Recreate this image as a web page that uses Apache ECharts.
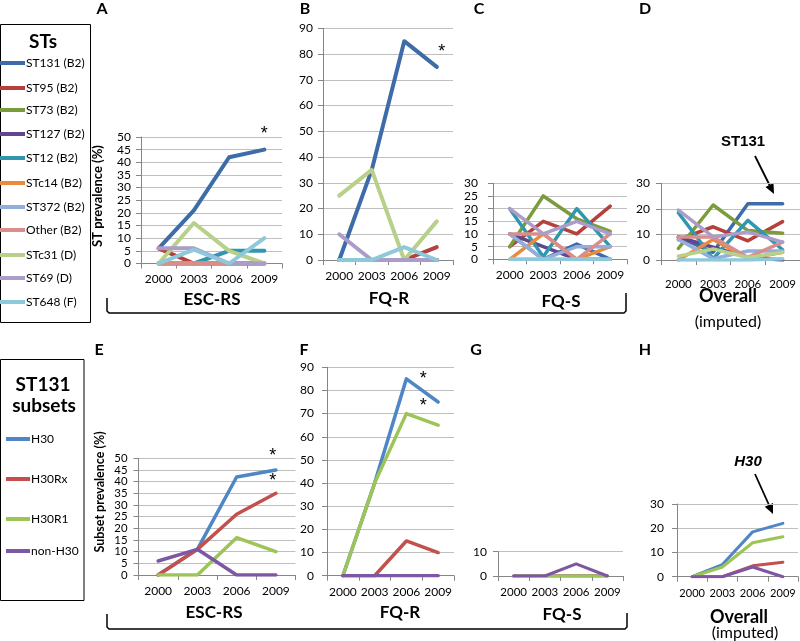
<!DOCTYPE html>
<html><head><meta charset="utf-8">
<script src="https://cdn.jsdelivr.net/npm/echarts@6/dist/echarts.min.js"></script>
<style>html,body{margin:0;padding:0;background:#fff}#c{width:800px;height:641px}</style>
</head><body><div id="c"></div>
<script>
const years = ['2000', '2003', '2006', '2009'];
const stNames = ['ST131 (B2)', 'ST95 (B2)', 'ST73 (B2)', 'ST127 (B2)', 'ST12 (B2)', 'STc14 (B2)', 'ST372 (B2)', 'Other (B2)', 'STc31 (D)', 'ST69 (D)', 'ST648 (F)'];
const stColors = ['#3D6CA8', '#B5403C', '#7B9C3C', '#60468F', '#3296AE', '#EB8A3C', '#93AEDB', '#D98E8C', '#B8D08A', '#AC9CC8', '#8DC9DB'];
const subsetNames = ['H30', 'H30Rx', 'H30R1', 'non-H30'];
const subsetColors = ['#4F86C6', '#C4504D', '#9CC456', '#7D57A3'];

// ST prevalence (%) per group, one row per ST in stNames order
const stEscRS = [[6,21,42,45],[6,0,0,0],[0,0,0,0],[0,0,0,0],[0,0,5,5],[0,0,0,0],[0,0,0,0],[0,0,0,0],[0,16,5,0],[6,6,0,0],[0,5.5,0,10]];
const stFqR   = [[0,35,85,75],[0,0,0,5],[0,0,0,0],[0,0,0,0],[0,0,0,0],[0,0,0,0],[0,0,0,0],[0,0,0,0],[25,35,0,15],[10,0,0,0],[0,0,5,0]];
const stFqS   = [[10,0,6,0],[5,15,10,21],[5,25,16,11],[10,5,0,0],[20,1,20,5],[0,10,0,5],[10,0,5,5],[10,10,0,10],[0,0,0,0],[20,10,15,10],[0,0,0,0]];
const stOverall = [[9,3,22,22],[8,13,7.5,15],[4.5,21.5,11.5,10.5],[9,5,1,0],[18.5,0.5,15.5,4],[0,8,0.5,3],[8,0.5,3.5,3.5],[9,9,1,7],[1.5,4.3,1,3],[19.5,9,11,7],[0,0,0,0.5]];

// ST131 subset prevalence (%) per group, one row per subset in subsetNames order
const subEscRS = [[0,11,42,45],[0,11,26,35],[0,0,16,10],[6,11,0,0]];
const subFqR   = [[0,40,85,75],[0,0,15,10],[0,40,70,65],[0,0,0,0]];
const subFqS   = [[0,0,0,0],[0,0,0,0],[0,0,0,0],[0,0,5,0]];
const subOverall = [[0,5,18.5,22],[0,0,4.5,6],[0,4,14,16.5],[0,0,4,0]];

const yMax = [50, 90, 30, 30, 50, 90, 10, 30];
const yStep = [5, 10, 5, 10, 5, 10, 10, 10];

// significance markers: [panel index, series index, category, value, dx, dy]
const stars = [[0,0,'2009',45,0,-16],[1,0,'2009',75,5,-15],[4,0,'2009',45,-3,-14],[4,1,'2009',35,-3,-12],[5,0,'2006',85,17,0],[5,2,'2006',70,17,-8]];

const FONT = 'Lato';
const panels = [
  {box:[141,137,141,126.5], data:stEscRS, names:stNames, colors:stColors, lw:4, fx:12, fy:12, xm:10, ym:10},
  {box:[323,28.3,130,231.7], data:stFqR, names:stNames, colors:stColors, lw:4, fx:12, fy:12, xm:10, ym:10},
  {box:[493,183.3,134,76], data:stFqS, names:stNames, colors:stColors, lw:3.5, fx:12, fy:12, xm:10, ym:15},
  {box:[661,183.3,139,76.7], data:stOverall, names:stNames, colors:stColors, lw:3.5, fx:11.5, fy:12, xm:18, ym:11},
  {box:[138.5,458.3,157,116.7], data:subEscRS, names:subsetNames, colors:subsetColors, lw:3.5, fx:12, fy:11.4, xm:10, ym:11},
  {box:[327,367.3,127,208.4], data:subFqR, names:subsetNames, colors:subsetColors, lw:3.5, fx:12, fy:12, xm:10, ym:13},
  {box:[498,551.7,125,24.3], data:subFqS, names:subsetNames, colors:subsetColors, lw:3, fx:11.5, fy:12, xm:10, ym:11},
  {box:[677,504,121,72.7], data:subOverall, names:subsetNames, colors:subsetColors, lw:3, fx:11, fy:12, xm:11, ym:13}
];

const grids = [], xAxes = [], yAxes = [], series = [];
panels.forEach((p, i) => {
  grids.push({left:p.box[0], top:p.box[1], width:p.box[2], height:p.box[3]});
  xAxes.push({gridIndex:i, type:'category', data:years, boundaryGap:true,
    axisLine:{show:true, lineStyle:{color:'#868686', width:1}},
    axisTick:{show:true, length:5, lineStyle:{color:'#868686'}},
    axisLabel:{interval:0, margin:p.xm, fontSize:p.fx, color:'#000', fontFamily:FONT, hideOverlap:false},
    splitLine:{show:false}});
  yAxes.push({gridIndex:i, type:'value', min:0, max:yMax[i], interval:yStep[i],
    axisLine:{show:true, lineStyle:{color:'#868686', width:1}},
    axisTick:{show:true, length:5, lineStyle:{color:'#868686'}},
    axisLabel:{margin:p.ym, fontSize:p.fy, color:'#000', fontFamily:FONT, showMinLabel:true, showMaxLabel:true, hideOverlap:false},
    splitLine:{show:true, lineStyle:{color:'#BFBFBF', width:1}}});
  p.data.forEach((vals, k) => {
    const s = {type:'line', name:p.names[k], xAxisIndex:i, yAxisIndex:i, data:vals,
      symbol:'none', smooth:false, silent:true,
      lineStyle:{color:p.colors[k], width:p.lw, cap:'round', join:'round'},
      itemStyle:{color:p.colors[k]}};
    const mine = stars.filter(st => st[0] === i && st[1] === k);
    if (mine.length) {
      s.markPoint = {symbol:'circle', symbolSize:1, itemStyle:{color:'rgba(0,0,0,0)'}, silent:true,
        data: mine.map(st => ({coord:[st[2], st[3]],
          label:{show:true, formatter:'*', position:'inside', offset:[st[4], st[5]], fontSize:18, fontFamily:'Liberation Sans', color:'#000'}}))};
    }
    series.push(s);
  });
});

const graphic = [];
function txt(x, y, text, size, weight, extra) {
  graphic.push(Object.assign({type:'text', x:x, y:y, silent:true,
    style:{text:text, fontSize:size, fontWeight:weight || 'normal', fontFamily:FONT, fill:'#000', align:'center', verticalAlign:'middle'}}, extra || {}));
}
// panel letters
[['A',102,9],['B',305,9],['C',479,9],['D',645,9],['E',99,350],['F',304,350],['G',476,350],['H',645,350]].forEach(l => txt(l[1], l[2], l[0], 16, 'bold'));
// group labels
txt(212,300,'ESC-RS',17,'bold'); txt(389,299,'FQ-R',17,'bold'); txt(561,302,'FQ-S',17,'bold');
txt(728,296,'Overall',18,'bold'); txt(728,322,'(imputed)',16,'normal');
txt(214,613,'ESC-RS',17,'bold'); txt(400,613,'FQ-R',17,'bold'); txt(562,615,'FQ-S',17,'bold');
txt(739,617,'Overall',18,'bold'); txt(745,633,'(imputed)',16,'normal');
// axis titles
txt(98,196,'ST prevalence (%)',13,'bold',{rotation:Math.PI/2});
txt(100,492,'Subset prevalence (%)',12.5,'bold',{rotation:Math.PI/2});
// annotations
graphic.push({type:'text', x:743, y:142, silent:true, style:{text:'ST131', fontSize:15, fontWeight:'bold', fontFamily:'Liberation Sans', fill:'#000', align:'center', verticalAlign:'middle'}});
graphic.push({type:'text', x:748, y:462, silent:true, style:{text:'H30', fontSize:15, fontWeight:'bold', fontStyle:'italic', fontFamily:'Liberation Sans', fill:'#000', align:'center', verticalAlign:'middle'}});
graphic.push({type:'line', silent:true, shape:{x1:755,y1:156,x2:770,y2:186}, style:{stroke:'#000', lineWidth:1.8}});
graphic.push({type:'polygon', silent:true, shape:{points:[[774,194],[765.5,187],[773.5,183]]}, style:{fill:'#000'}});
graphic.push({type:'line', silent:true, shape:{x1:755,y1:474,x2:769,y2:505}, style:{stroke:'#000', lineWidth:1.8}});
graphic.push({type:'polygon', silent:true, shape:{points:[[773,514],[764.8,506.7],[773,503]]}, style:{fill:'#000'}});
// brackets
graphic.push({type:'polyline', silent:true, shape:{points:[[107,298],[107,311],[109,313],[624,313],[626,311],[626,293]]}, style:{stroke:'#000', lineWidth:1.5, fill:null}});
graphic.push({type:'polyline', silent:true, shape:{points:[[107,614],[107,627],[109,629],[625,629],[627,627],[627,613]]}, style:{stroke:'#000', lineWidth:1.5, fill:null}});
// legend boxes
graphic.push({type:'rect', silent:true, shape:{x:0.5,y:24.5,width:90,height:298}, style:{stroke:'#000', lineWidth:1, fill:'#fff'}, z:-1});
txt(43,42,'STs',19,'bold');
const stLegY = [63,88,110,134,158,183,207,230,255,278,302];
stNames.forEach((n, k) => {
  graphic.push({type:'line', silent:true, shape:{x1:0,y1:stLegY[k],x2:25,y2:stLegY[k]}, style:{stroke:stColors[k], lineWidth:4}});
  graphic.push({type:'text', x:26, y:stLegY[k], silent:true, style:{text:n, fontSize:12, fontFamily:FONT, fill:'#000', align:'left', verticalAlign:'middle'}});
});
graphic.push({type:'rect', silent:true, shape:{x:0.5,y:359.5,width:83.5,height:241}, style:{stroke:'#000', lineWidth:1, fill:'#fff'}, z:-1});
txt(43,385,'ST131',19,'bold'); txt(44,406,'subsets',19,'bold');
const subLegY = [439,479,519,551];
subsetNames.forEach((n, k) => {
  graphic.push({type:'line', silent:true, shape:{x1:6,y1:subLegY[k],x2:30,y2:subLegY[k]}, style:{stroke:subsetColors[k], lineWidth:4}});
  graphic.push({type:'text', x:31, y:subLegY[k], silent:true, style:{text:n, fontSize:12, fontFamily:FONT, fill:'#000', align:'left', verticalAlign:'middle'}});
});

const chart = echarts.init(document.getElementById('c'), null, {renderer:'canvas'});
chart.setOption({
  animation:false,
  backgroundColor:'#fff',
  grid:grids, xAxis:xAxes, yAxis:yAxes, series:series, graphic:graphic
});
</script></body></html>
